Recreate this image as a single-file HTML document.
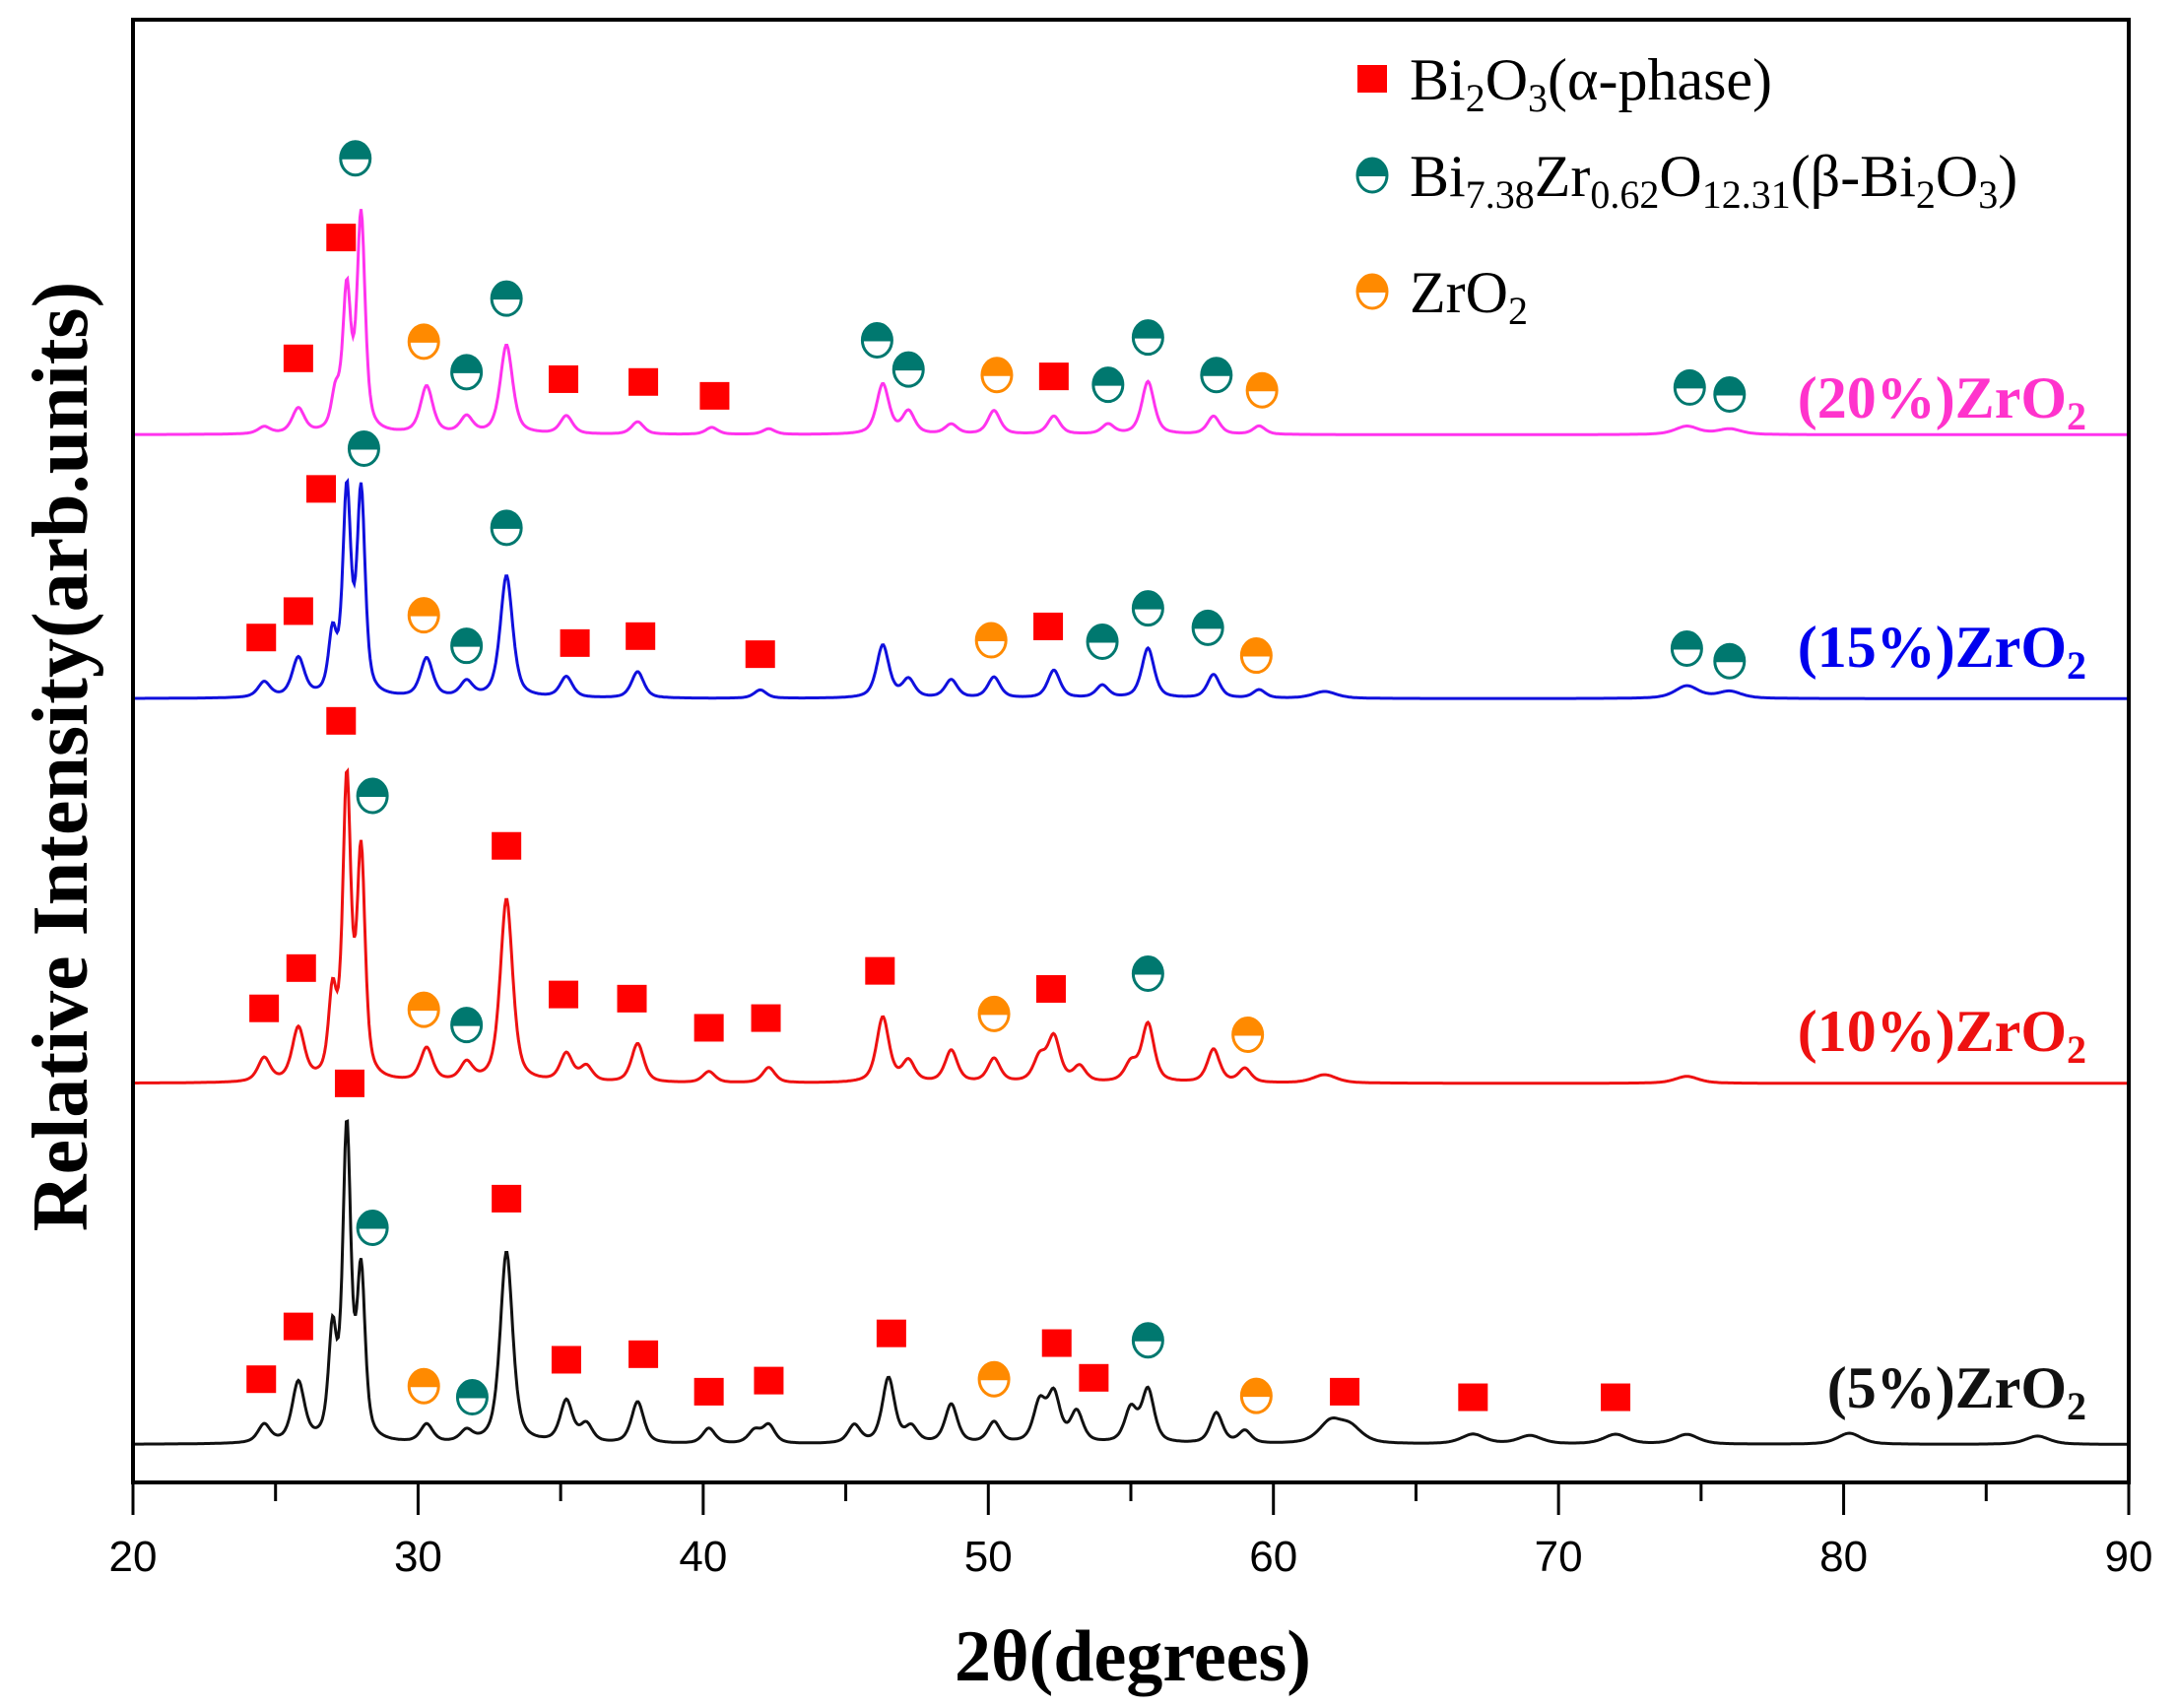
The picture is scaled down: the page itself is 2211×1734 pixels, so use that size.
<!DOCTYPE html>
<html><head><meta charset="utf-8"><style>
html,body{margin:0;padding:0;background:#fff;}
svg{display:block;font-family:"Liberation Serif",serif;}
</style></head><body>
<svg id="chart" width="2211" height="1734" viewBox="0 0 2211 1734" xmlns="http://www.w3.org/2000/svg">
<rect x="0" y="0" width="2211" height="1734" fill="#fff"/>
<g id="series"></g>
<g id="markers"></g>
<rect x="135" y="20" width="2026" height="1485" fill="none" stroke="#000" stroke-width="4"/>
<g id="ticks"></g>
<text x="1150" y="1706" font-size="74" font-weight="bold" text-anchor="middle">2θ(degrees)</text>
<text transform="translate(88,768) rotate(-90)" font-size="80" font-weight="bold" text-anchor="middle">Relative Intensity(arb.units)</text>
<g font-size="60">
 <rect x="1378" y="66" width="30" height="28" fill="#f00"/>
 <text x="1431" y="101">Bi<tspan font-size="40" dy="12">2</tspan><tspan dy="-12">O</tspan><tspan font-size="40" dy="12">3</tspan><tspan dy="-12">(α-phase)</tspan></text>
 <g id="leg2"></g>
 <text x="1431" y="199">Bi<tspan font-size="40" dy="12">7.38</tspan><tspan dy="-12">Zr</tspan><tspan font-size="40" dy="12">0.62</tspan><tspan dy="-12">O</tspan><tspan font-size="40" dy="12">12.31</tspan><tspan dy="-12">(β-Bi</tspan><tspan font-size="40" dy="12">2</tspan><tspan dy="-12">O</tspan><tspan font-size="40" dy="12">3</tspan><tspan dy="-12">)</tspan></text>
 <g id="leg3"></g>
 <text x="1431" y="317">ZrO<tspan font-size="40" dy="12">2</tspan></text>
</g>
<g font-weight="bold" font-size="60" text-anchor="end">
 <text x="2118" y="424" fill="#ff33cc">(20%)ZrO<tspan font-size="40" dy="12">2</tspan></text>
 <text x="2118" y="677" fill="#0000ee">(15%)ZrO<tspan font-size="40" dy="12">2</tspan></text>
 <text x="2118" y="1067" fill="#ee1111">(10%)ZrO<tspan font-size="40" dy="12">2</tspan></text>
 <text x="2118" y="1429" fill="#111">(5%)ZrO<tspan font-size="40" dy="12">2</tspan></text>
</g>
</svg>
<script>
// ---- data ----
const xTicks = [20,30,40,50,60,70,80,90];
const seriesNames = ['20pct','15pct','10pct','5pct'];
const seriesColors = ['#ff33ee','#1010dd','#ee1111','#111111'];
const baselines = [313,503,780,1040];
const peak20Pos = [24.6,25.8,27.1,27.5,28.0,30.3,31.7,33.1,35.2,37.7,40.3,42.3,46.3,47.2,48.7,50.2,52.3,54.2,55.6,57.9,59.5,74.5,76.0];
const peak20Hgt = [5,18,25,100,155,34,12,64,13,9,5,4,36,16,7,17,13,7,38,13,6,6,4];
const peak15Pos = [24.6,25.8,27.0,27.5,28.0,30.3,31.7,33.1,35.2,37.7,42.0,46.3,47.2,48.7,50.2,52.3,54.0,55.6,57.9,59.5,61.8,74.5,76.0];
const peak15Hgt = [11,28,42,145,145,28,11,88,15,19,6,38,13,13,15,20,9,36,17,6,5,9,5];
const peak10Pos = [24.6,25.8,27.0,27.5,28.0,30.3,31.7,33.1,35.2,35.9,37.7,40.2,42.3,46.3,47.2,48.7,50.2,51.8,52.3,53.2,55.0,55.6,57.9,59.0,61.8,74.5];
const peak10Hgt = [17,38,58,212,160,24,13,132,20,11,28,8,11,47,15,23,17,17,32,11,13,42,24,10,6,5];
const peak5Pos = [24.6,25.8,27.0,27.5,28.0,30.3,31.7,33.1,35.2,35.9,37.7,40.2,41.8,42.3,45.3,46.5,47.3,48.7,50.2,51.8,52.3,53.1,55.0,55.6,58.0,59.0,62.0,62.7,67.0,69.0,72.0,74.5,80.2,86.8];
const peak5Hgt = [13,43,75,222,118,13,8,138,30,13,30,11,9,13,13,47,11,28,15,28,34,22,24,38,22,9,15,11,7,6,7,7,8,6];
const peakPos = [peak20Pos,peak15Pos,peak10Pos,peak5Pos];
const peakHgt = [peak20Hgt,peak15Hgt,peak10Hgt,peak5Hgt];
const mk20Type = ['s','s','b','z','b','b','s','s','s','b','b','z','s','b','b','b','z','b','b'];
const mk20X = [25.8,27.3,27.8,30.2,31.7,33.1,35.1,37.9,40.4,46.1,47.2,50.3,52.3,54.2,55.6,58.0,59.6,74.6,76.0];
const mk20Y = [258,171,114,246,268,215,273,275,285,245,266,270,271,277,243,270,281,279,284];
const mk15Type = ['s','s','s','b','z','b','b','s','s','s','z','s','b','b','b','z','b','b'];
const mk15X = [24.5,25.8,26.6,28.1,30.2,31.7,33.1,35.5,37.8,42.0,50.1,52.1,54.0,55.6,57.7,59.4,74.5,76.0];
const mk15Y = [459,440,352,323,443,465,380,463,458,471,461,451,462,438,452,472,467,476];
const mk10Type = ['s','b','s','s','s','z','b','s','s','s','s','s','z','s','b','z'];
const mk10X = [27.3,28.4,33.1,24.6,25.9,30.2,31.7,35.1,37.5,40.2,42.2,46.2,50.2,52.2,55.6,59.1];
const mk10Y = [519,573,609,726,697,727,738,716,719,740,733,699,730,712,701,745];
const mk5Type = ['s','b','s','s','s','z','b','s','s','s','s','s','z','s','s','b','z','s','s','s'];
const mk5X = [27.6,28.4,33.1,24.5,25.8,30.2,31.9,35.2,37.9,40.2,42.3,46.6,50.2,52.4,53.7,55.6,59.4,62.5,67.0,72.0];
const mk5Y = [780,884,863,993,955,998,1006,979,975,1002,994,960,993,967,992,965,1005,1002,1006,1006];
const mkType=[mk20Type,mk15Type,mk10Type,mk5Type], mkX=[mk20X,mk15X,mk10X,mk5X], mkY=[mk20Y,mk15Y,mk10Y,mk5Y];

const NS='http://www.w3.org/2000/svg';
const S = 2211/1568;
const X0=135, X1=2161;
function xPos(t){return X0+(t-20)/(90-20)*(X1-X0);}
function yPos(v){return v*S;}
function mk(tag,attrs,parent){const e=document.createElementNS(NS,tag);for(const k in attrs)e.setAttribute(k,attrs[k]);parent.appendChild(e);return e;}

const tg=document.getElementById('ticks');
for(let t=20;t<=90;t+=5){
  const major = t%10===0;
  const tk=mk('line',{x1:xPos(t),x2:xPos(t),y1:1505,y2:major?1538:1524,stroke:'#000','stroke-width':3},tg);
  
  
}
xTicks.forEach(t=>{
  const tx=mk('text',{x:xPos(t),y:1595,'font-size':44,'text-anchor':'middle','font-family':'Liberation Sans, sans-serif'},tg);
  tx.textContent=t;
  
  
});

const sg=document.getElementById('series');
seriesNames.forEach((nm,i)=>{
  let d='';
  for(let t=20;t<=90.001;t+=0.04){
    let I=0;
    const P=peakPos[i],H=peakHgt[i];
    for(let k=0;k<P.length;k++){
      const w = P[k]>60?0.5:(P[k]>26.8&&P[k]<28.5?0.17:0.26);
      const dx=(t-P[k])/w;
      I+=H[k]*(0.6/(1+dx*dx)+0.4*Math.exp(-dx*dx*0.7));
    }
    const y=yPos(baselines[i]-I);
    d+=(d?'L':'M')+xPos(t).toFixed(1)+','+y.toFixed(1);
  }
  const p=mk('path',{d:d,fill:'none',stroke:seriesColors[i],'stroke-width':3},sg);
  
  
});

function circleMarker(parent,cx,cy,color){
  const g=mk('g',{},parent);
  mk('ellipse',{cx:cx,cy:cy,rx:15,ry:17,fill:'#fff',stroke:color,'stroke-width':3},g);
  mk('path',{d:`M${cx-15},${cy+1} A15,17 0 0 1 ${cx+15},${cy+1} Z`,fill:color},g);
  return g;
}
const mg=document.getElementById('markers');
mkType.forEach((arr,i)=>{
  arr.forEach((ty,j)=>{
    const cx=xPos(mkX[i][j]), cy=yPos(mkY[i][j]);
    let e;
    if(ty==='s'){ e=mk('rect',{x:cx-15,y:cy-14,width:30,height:28,fill:'#f00'},mg); }
    else { e=circleMarker(mg,cx,cy,ty==='b'?'#00786f':'#ff8a00'); }
    
    
  });
});
const l2=circleMarker(document.getElementById('leg2'),1393,178,'#00786f');


const l3=circleMarker(document.getElementById('leg3'),1393,296,'#ff8a00');


</script>
</body></html>
